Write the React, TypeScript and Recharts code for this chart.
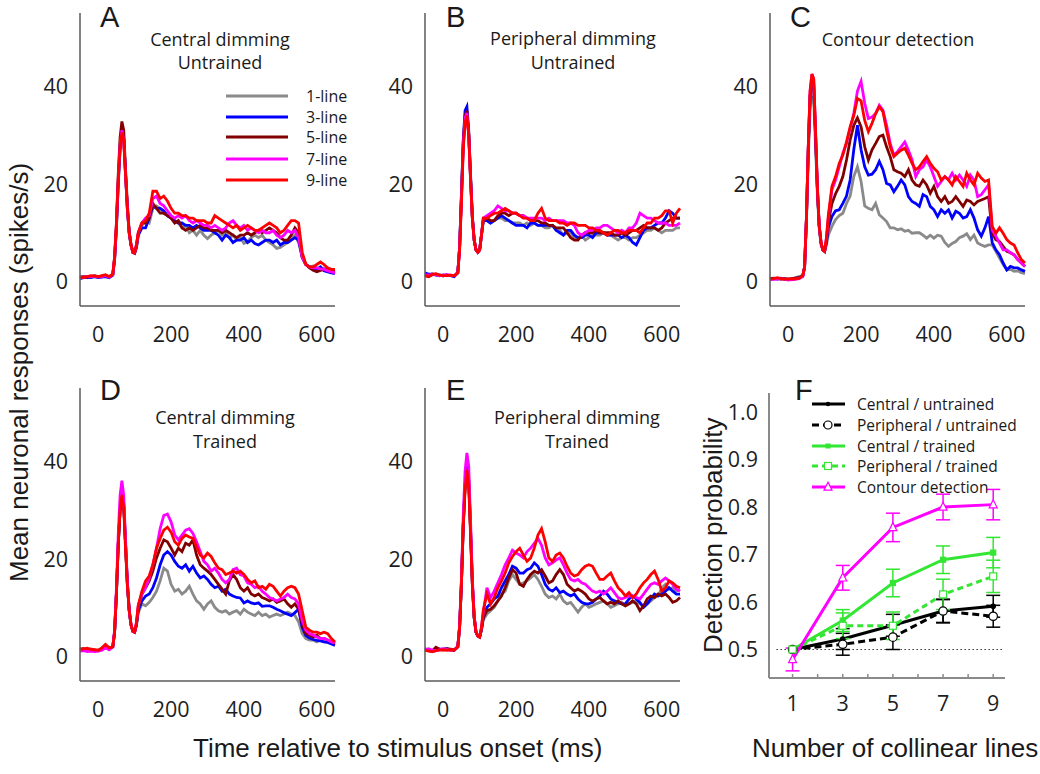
import React from "react";
import { LineChart, Line, XAxis, YAxis, ErrorBar, ReferenceLine } from "recharts";

// time bins (ms), finer around the onset transient
const TIME = [
  -50, -40, -30, -20, -10, 0, 10, 20, 30, 40, 45, 50, 55, 60, 65, 70, 75, 80, 85, 90, 95, 100, 105, 110,
  120, 130, 140, 150, 160, 170, 180, 190, 200, 210,
  220, 230, 240, 250, 260, 270, 280, 290, 300, 310,
  320, 330, 340, 350, 360, 370, 380, 390, 400, 410,
  420, 430, 440, 450, 460, 470, 480, 490, 500, 510,
  520, 530, 540, 550, 560, 570, 580, 590, 600, 610,
  620, 630, 640, 650,
];

// A: central dimming, untrained
const A_1 = [0.9,1.0,0.8,1.1,1.0,0.9,1.0,1.2,0.9,1.4,4.5,11,20,27,31,29,22,15,10,7.5,6,5.8,7,9.5,
  11.5,12.5,12,15,15.5,15,14,13.5,13,12.5, 12,11,11.5,10,10.5,9.5,10.5,9.5,8.8,9.5,
  10,10.5,9.5,10,9,9.5,8.5,9,7.8,8.2, 9,9.5,9,9.5,8.5,8,7.5,6.8,7,7.5,
  8,8.5,9.5,8,5,3.5,3,3.2,2.8,2.5, 2.8,2.3,2.2,2.0];
const A_3 = [0.6,0.8,0.9,0.8,1.0,0.8,0.9,1.0,0.8,1.3,4.5,11,20,27,31.5,29.5,22,15,10,7.5,6,5.8,7,9.5,
  11,11,13,15.5,15,15,14.5,13.5,13,12.5, 12,12,11.5,11.5,11,11.5,11,10.5,10.5,10.5,
  10,9.5,8.5,9.5,9,8,8.5,8.5,9,8, 8.5,7.8,7.5,8,8.5,8.5,8,8.5,7.5,8,
  8,8.5,9,8.5,5,3.5,3,2.8,2.5,3, 2.2,2,1.8,1.6];
const A_5 = [0.9,1.0,0.9,1.0,1.2,1.0,1.1,1.3,1.0,1.5,5,12,22,29.5,32.8,31,23,16,10.5,7.5,6.2,6,7.5,10,
  12,12,13,16,15,14,14,13.5,13,12, 12.5,11,10.5,11,10.5,11,11.5,11,11,10.5,
  10.5,10.5,10,10.5,10,9.5,9,9.5,9.5,10, 9.5,10,10.5,10,10.5,11,10.5,10,9,8.5,
  8.5,9.5,11,10,5,3.5,2.8,2.3,2.0,2.3, 2.5,2.4,2.2,2.2];
const A_7 = [0.8,0.9,1.0,1.0,1.1,0.9,1.0,1.2,0.9,1.4,4.8,11.5,21,28,31,29,22,15,10,7.5,6,6,7.5,10,
  12,13,13.5,17,17.5,16,15.5,14.5,13.5,13, 13.5,13,13.5,12.5,12,12.5,12,11.5,11.5,11,
  11.5,11,10.5,11,12,12.5,11.5,11,11.5,10.5, 11,10.5,10,10.5,10,10,10.5,9.5,9,9.5,
  10.5,10,10.5,9,5,3.5,3,2.8,2.8,2.6, 2.5,2.2,2,1.8];
const A_9 = [0.9,0.8,1.0,1.2,1.1,1.0,1.2,1.4,1.0,1.5,5,12,21,27.5,30.5,29,22,15,10,7.5,6,5.8,7.5,10,
  12,12.5,14,18.5,18.5,17,17.5,16.5,15,14, 14,13.5,13.5,13,13,12.5,12.5,12.5,12,12,
  13.5,13,12.5,12,11.5,11,11.5,10.5,11,11.5, 11,10.5,10.5,11,11.5,12,11.5,11,10,10.5,
  11.5,12.5,12.5,12,6,3.5,3,3,3.5,4, 3.5,2.8,2.5,2.5];

// B: peripheral dimming, untrained
const B_1 = [1.5,1.3,1.6,1.3,1.2,1.4,1.3,1.2,1.2,1.8,7,17,28,33.5,34.5,30,21,13,8.5,6.5,6,6.5,9.5,12.5,
  12.5,12,12.5,13,13,12.5,12.5,12,12,12, 11.5,12,11.5,12,11.5,11.5,11,11,11.5,10.5,
  10.5,9.5,10,10,9,9,9.5,8.5,9,9.5, 9.5,9.5,10,9.5,9.5,9,8.5,9,9,8.5,
  9,9,9.5,10,10.5,10.5,11,10.5,10,10.5, 10.5,10.5,11,11];
const B_3 = [1.8,1.5,1.5,1.4,1.3,1.2,1.3,1.2,1.0,1.8,7,18,29,35,35.8,31,22,13.5,8.5,6.5,6,6.5,9.5,12.5,
  12.5,12,12.5,13,13.5,13,12.5,12,11.5,11.5, 11.5,11,12,12,11.5,11.5,11.5,11.5,11.5,10.5,
  10,9.5,10.5,10.5,9.5,9,9,9.5,9.5,9, 10,10,10,9.5,9.5,9.5,9.5,9,9.5,9,
  8,7.5,9,10.5,11,11,11.5,12,12,13, 14.5,14,13,13];
const B_5 = [1.2,1.0,1.4,1.5,1.3,1.2,1.3,1.2,1.2,1.8,7,17.5,28.5,34,35,30.5,21.5,13,8.5,6.5,6,6.5,9.5,12.5,
  13,12.5,12.5,13.5,14,14,13.5,14,14,13.5, 13.5,13,12.5,12.5,12.5,12,12,11.5,11.5,11,
  11,11,10,9,8.5,8.5,9.5,10,10,10, 10.5,10,10,10,10,9.5,9.5,10,9.5,10,
  10.5,10.5,11,11.5,11,11,11,10.5,11,12, 12.5,13,13,13];
const B_7 = [1.4,1.3,1.5,1.4,1.2,1.3,1.4,1.3,1.2,1.8,7,17,28,33.5,34.5,30,21,13,8.5,6.5,6,6.5,9.5,13,
  13.5,14,14.5,15.5,15,14.5,14.5,14,14,13.5, 13.5,13,13,13,13,13,12.5,13,12.5,12.5,
  12.5,12.5,12,12,11.5,10,9.5,10,10.5,10.5, 11,11,11.5,11.5,11,10.5,10,10.5,10,11,
  11,12,14,13.5,13,13,12.5,12,12,12, 11.5,11.5,11.5,12];
const B_9 = [1.2,1.1,1.5,1.6,1.3,1.2,1.2,1.3,1.2,1.8,6.5,16,27,32.5,34,30,21,13,8.5,6.5,6,6.5,9.5,13,
  13,13.5,14,14,14.5,15,14.5,14,14,13.5, 13,13,12.5,12.5,14,15,13,12.5,12.5,12.5,
  12,12,11.5,12,12,11.5,11.5,11.5,11,11, 10.5,10.5,10,9.5,10,10.5,10.5,10,10,10.5,
  10.5,10.5,10,11,12,12,13,13,13.5,14.5, 14.5,12,14,15];

// C: contour detection
const C_1 = [0.6,0.5,0.7,0.5,0.6,0.4,0.5,0.8,1.0,1.2,3,12,25,35,38,37,28,18,11,7.5,6.5,6.3,7.5,9.5,
  11.3,12.7,13.5,14,16,17.5,21.5,23.5,20.5,15.5, 15,14.7,16,13.7,13,12.3,11,11,10.6,10.8,
  10.3,10.5,9.9,10,10,9.5,8.9,9.5,8.9,9.5, 9.3,8,7.2,7.8,8.2,9,9.3,9.8,8.6,9.5,
  7.9,7.5,7.2,7.5,7.5,6.2,4.8,3.5,2.4,2.5, 2.1,2.2,1.8,1.6];
const C_3 = [0.5,0.6,0.5,0.7,0.5,0.5,0.4,0.6,0.8,1.2,3,13,27,38,41,40,30,19,11.5,8,6.5,6.2,8,11,
  13.3,14.5,14.7,16,17.5,20.8,27,32,27,23.5, 21.8,22,22.9,24.6,22.9,20.1,19.8,18.4,19.5,20.8,
  19.8,17.4,16.4,16,15.4,17.8,17.4,15.4,14.7,13.3, 14.7,14,14.7,13,14.4,14,13,13.3,14.7,13,
  10.6,9.3,11,13.3,8,6.5,5.5,3.8,2.4,3.1, 2.8,2.8,2.4,2.1];
const C_5 = [0.6,0.7,0.6,0.5,0.6,0.5,0.6,0.7,0.8,1.2,3,13,27,38,41.5,40.5,30,19,11.5,8,6.5,6.2,8.5,12,
  16,18,19.5,21.5,24.9,29,32,33.5,31.7,27.6, 24.9,27,28.3,29.7,30,27.6,25.6,22.9,22.5,22.2,
  21.5,22.9,20.8,19.8,19.5,20.8,19.8,18.1,19.5,17.4, 16.4,17.4,16,16.4,17.4,16.4,15.4,16.7,16.4,15.7,
  16.4,16.7,17,17.4,9.9,8.6,8.2,7.2,6.2,5.9, 5.5,4.5,3.8,3.1];
const C_7 = [0.4,0.5,0.5,0.6,0.5,0.3,0.4,0.5,0.6,1.0,3,13,27.5,39,42.5,41.5,31,19.5,11.5,8,6.5,6.2,9,13,
  18.8,20.8,23.5,26.3,28.3,31.4,34.4,39,41,36.5, 33.4,33.7,34.4,36.1,35.1,32,28.3,25.9,26.6,27.6,
  28.6,26.9,24.9,21.5,22.9,23.5,24.9,23.5,21.5,19.5, 20.5,21.5,20.8,22.2,20.8,21.8,20.8,19.5,21.8,20.8,
  17.4,17.8,18.8,19.8,10.6,9.3,7.9,6.5,6.5,5.9, 5.5,4.5,3.8,3.1];
const C_9 = [0.5,0.6,0.8,0.6,0.5,0.5,0.6,0.5,0.7,1.2,3,13,27.5,39,42.5,41.5,31,19.5,11.5,8,6.5,6.2,9,13.5,
  19.5,21.5,24.2,25.9,28.6,31.7,34,37.5,37,33, 30.7,32.4,34.4,35.8,34.8,31,27.6,25.6,26.3,26.9,
  27.3,25.9,24.2,22.9,23.5,24.6,25.6,24.2,23.2,22.5, 20.8,21.5,20.8,19.8,21.5,20.5,19.5,22.2,20.8,19.8,
  22.2,21.2,20.5,20.8,11.3,9.9,11,9.9,8.6,7.9, 7.5,5.9,4.5,3.8];

// D: central dimming, trained
const D_1 = [1.3,1.4,1.5,1.2,1.3,1.2,1.4,1.8,1.6,2,5,13,23,30,33,31,23,15,9.5,6.5,5.2,5,6.5,9,
  10.8,10.4,11.1,12.1,13.4,15.5,18.1,17.5,14.8,13.4, 13.8,12.8,13.4,14.4,12.8,11.4,10.8,9.7,10.8,11.4,
  10.1,9.4,9.1,9.4,8.7,9.1,9.4,8.7,9.7,9.1, 8.7,8.4,9.1,8.4,8.7,8.1,8.4,8.7,8.4,8.7,
  9.1,8.7,8.4,7.1,4.7,3.7,3.4,3.4,3.0,3.4, 3.0,3.0,2.7,2.5];
const D_3 = [1.4,1.5,1.3,1.4,1.2,1.3,1.5,2,1.5,2,5,13,23,30,33,31,23,15,9.5,6.5,5.2,5,6.5,9.5,
  11.4,12.4,12.8,14.1,16.1,18.8,20.8,21.5,20.8,19.5, 18.5,18.1,18.8,17.5,18.5,17.1,16.1,16.5,15.8,14.8,
  14.1,14.4,13.4,13.8,12.8,12.4,12.1,12,11,11.4, 11,10.8,11,10.3,10.4,10.4,10.1,9.7,9.4,9,
  8.7,8.4,9,9.7,6,4.3,3.8,3.5,3.3,3.2, 3,2.9,2.6,2.3];
const D_5 = [1.5,1.6,1.4,1.5,1.3,1.2,1.6,2.3,1.7,2,5,13,23,30,33.5,31.5,23,15,9.5,6.5,5.2,5,6.5,10,
  12.8,14.1,15.5,17.5,20.2,22.2,23.9,23.5,22.2,20.8, 22.2,21.5,23.2,22.8,23.9,20.8,18.8,18.1,17.5,16.8,
  15.8,14.8,13.8,12.8,15.5,16.8,15.8,14.1,13.4,14.1, 12.8,12.4,12.8,12.1,11.8,11.4,11.8,11.1,11.4,11.8,
  10.8,10.1,10.8,9.7,6.7,4.7,4.4,4,4.4,3.7, 3.7,3.4,3,2.7];
const D_7 = [1.1,1.2,1.0,1.1,1.0,1.1,1.3,1.8,1.4,2,5.5,14,25,33,36,33,24,15.5,9.5,6.5,5.2,5,7,10.5,
  12.8,14.1,16.1,18.8,22.2,26.2,28.9,29.2,27.6,24.9, 23.9,24.9,25.9,26.2,25.2,23.5,21.5,19.5,18.8,17.5,
  18.1,17.1,15.8,15.1,15.8,17.8,18.1,16.8,16.5,15.1, 14.8,14.1,14.4,13.4,12.8,12.1,11.8,11.4,11.8,12.1,
  12.8,12.1,11.8,10.8,7.4,5.4,4.7,4.4,4,3.7, 3.7,3.4,3,2.8];
const D_9 = [1.5,1.6,1.7,1.5,1.4,1.3,1.8,2.5,1.8,2,5,13,23,30,33,30.5,22,14.5,9.5,6.5,5.2,5,7,10.5,
  13.4,15.5,16.5,18.8,22.2,24.2,25.9,26.5,25.5,23.5, 22.8,24.2,24.9,24.5,24.2,22.5,20.8,20.2,21.2,20.5,
  19.2,18.1,17.8,16.8,17.1,17.5,17.1,17.5,16.8,15.8, 15.1,15.5,14.1,14.4,13.8,14.8,14.4,13.4,12.4,13.4,
  14.1,14.4,14.1,12.8,9.4,6,5.4,5,5,4.7, 5,4.7,3.7,3];

// E: peripheral dimming, trained
const E_1 = [1.3,1.2,1.0,1.4,1.5,1.4,1.5,1.4,1.3,2,6,15,27,35,38.5,36,26,15,8,5,4.2,4,5.5,7.5,
  8.7,9.4,10.1,11.4,12.8,13.4,15.5,16.8,15.8,14.8, 15.1,15.5,16.1,16.8,15.8,14.4,12.8,12.1,12.4,11.8,
  12.8,11.4,10.8,11.1,10.1,9.1,10.1,10.8,10.1,10.4, 10.8,11.1,11.4,10.8,10.1,10.4,10.8,11.1,10.4,10.8,
  11.1,11.4,10.8,10.1,10.8,11.4,12.1,12.4,14.1,14.8, 13.8,14.1,13.4,13.8];
const E_3 = [1.5,1.3,1.1,1.2,1.5,1.5,1.6,1.4,1.3,2,6,15,27,35,39,36.5,26,15,8,5,4.2,4,5.5,8,
  10.1,10.8,11.8,12.4,14.1,15.5,16.8,18.5,18.1,17.1, 17.1,17.8,18.1,19.2,18.5,16.8,14.8,13.8,13.4,14.1,
  13.1,13.4,12.8,12.4,12.8,11.8,11.1,10.8,10.8,11.1, 11.8,12.4,13.4,12.8,11.8,11.4,11.1,10.8,10.8,11.8,
  12.4,11.8,11.1,10.1,10.8,11.8,12.8,12.4,12.8,13.4, 14.1,13.4,12.8,12.8];
const E_5 = [1.6,1.4,1.2,1.9,1.5,1.4,1.6,1.5,1.4,2,6,15,27,35,38.5,36,26,15,8,5,4.2,4,5.5,8,
  9.4,9.7,10.4,11.4,12.4,14.1,16.1,17.8,17.1,14.8, 14.4,15.8,16.8,17.5,17.1,17.8,16.5,15.1,15.5,16.8,
  17.8,16.8,14.8,14.1,13.4,13.8,13.4,12.8,11.8,11.4, 11.8,12.1,11.4,10.8,11.1,10.8,11.4,10.8,10.4,10.8,
  11.4,10.8,9.4,10.4,11.8,12.4,12.1,12.8,12.4,12.8, 12.1,11.1,11.4,12.1];
const E_7 = [1.4,1.6,1.3,1.2,1.4,1.6,1.5,1.3,1.4,2,6.5,16,29,38,41.7,39,28,16,8.5,5,4.2,4,6,9,
  14.1,12.1,13.4,15.1,16.8,18.8,20.2,21.8,21.2,20.8, 20.2,21.5,22.2,23.2,24.2,22.8,20.2,18.8,19.2,19.8,
  20.2,18.8,17.1,15.8,15.5,15.8,15.1,14.8,14.1,13.4, 13.1,13.4,12.8,13.4,14.1,13.1,12.1,11.8,12.1,12.4,
  12.4,12.1,11.8,12.8,13.8,14.8,15.1,14.8,15.5,16.1, 15.5,14.8,13.8,13.4];
const E_9 = [1.3,1.1,1.0,1.2,1.3,1.4,1.3,1.4,1.3,2,6,15,26.5,34,38.2,35,25,14.5,8,5,4.2,4,6,9.5,
  12.8,10.8,12.1,14.1,15.5,17.1,19.2,20.5,21.5,22.2, 20.8,19.5,20.2,22.2,24.9,26.2,23.5,20.2,19.5,20.8,
  21.2,20.2,18.5,17.1,16.5,16.8,17.8,18.5,18.8,18.5, 17.1,15.8,15.8,16.5,17.1,15.5,14.1,13.4,12.4,13.1,
  12.1,12.8,14.1,15.1,15.8,16.8,17.5,15.8,13.4,14.1, 15.5,15.1,14.4,14.1];

// F: detection probability vs number of collinear lines
const N_LINES = [1, 3, 5, 7, 9];
const CENTRAL_UNTRAINED = [0.5, 0.522, 0.551, 0.581, 0.591];
const CENTRAL_UNTRAINED_ERR = [0, 0.022, 0.023, 0.025, 0.023];
const PERIPH_UNTRAINED = [0.5, 0.511, 0.526, 0.581, 0.57];
const PERIPH_UNTRAINED_ERR = [0, 0.023, 0.026, 0.024, 0.023];
const CENTRAL_TRAINED = [0.5, 0.561, 0.64, 0.689, 0.704];
const CENTRAL_TRAINED_ERR = [0, 0.023, 0.029, 0.029, 0.032];
const PERIPH_TRAINED = [0.5, 0.55, 0.55, 0.616, 0.654];
const PERIPH_TRAINED_ERR = [0, 0.027, 0.029, 0.032, 0.034];
const CONTOUR = [0.479, 0.651, 0.757, 0.8, 0.805];
const CONTOUR_ERR = [0.024, 0.026, 0.03, 0.027, 0.032];

const TRACE_KEYS = ["l1", "l3", "l5", "l7", "l9"];
const TRACE_COLORS = ["#8a8a8a", "#0000ff", "#800000", "#ff00ff", "#ff0000"];
const TRACE_NAMES = ["1-line", "3-line", "5-line", "7-line", "9-line"];

const GREEN = "#33e633";
const MAGENTA = "#ff00ff";

const TICK = { fontSize: 21.5, fill: "#1e1e1e", fontFamily: "'Open Sans', sans-serif" };
const AXIS = { stroke: "#5a5a5a", strokeWidth: 1.5 };
const F_AXIS = { stroke: "#8a8a8a", strokeWidth: 2 };

function TracePanel({ left, top, series }: { left: number; top: number; series: number[][] }) {
  const rows = TIME.map((t, i) => {
    const row: Record<string, number> = { t };
    TRACE_KEYS.forEach((k, j) => {
      row[k] = series[j][i];
    });
    return row;
  });
  return (
    <div style={{ position: "absolute", left, top }}>
      <LineChart width={345} height={370} data={rows} margin={{ top: 13, right: 10, bottom: 0, left: 0 }}>
        <XAxis
          dataKey="t"
          type="number"
          domain={[-50, 650]}
          ticks={[0, 200, 400, 600]}
          height={64}
          axisLine={AXIS}
          tickLine={false}
          tickMargin={15}
          tick={TICK}
        />
        <YAxis
          type="number"
          domain={[-5, 55]}
          ticks={[0, 20, 40]}
          width={80}
          axisLine={AXIS}
          tickLine={false}
          tickMargin={6}
          tick={TICK}
        />
        {TRACE_KEYS.map((k, j) => (
          <Line
            key={k}
            dataKey={k}
            type="linear"
            stroke={TRACE_COLORS[j]}
            strokeWidth={2.8}
            dot={false}
            activeDot={false}
            isAnimationActive={false}
          />
        ))}
      </LineChart>
    </div>
  );
}

const circleDot = (fill: string, stroke: string, r: number) => (p: any) => (
  <circle key={`c${p.index}`} cx={p.cx} cy={p.cy} r={r} fill={fill} stroke={stroke} strokeWidth={1.2} />
);
const squareDot = (fill: string, stroke: string, s: number) => (p: any) => (
  <rect key={`s${p.index}`} x={p.cx - s / 2} y={p.cy - s / 2} width={s} height={s} fill={fill} stroke={stroke} strokeWidth={1.2} />
);
const triPoints = (cx: number, cy: number, s: number) =>
  `${cx},${cy - s * 0.6} ${cx - s / 2},${cy + s * 0.4} ${cx + s / 2},${cy + s * 0.4}`;
const triDot = (stroke: string, s: number) => (p: any) => (
  <polygon key={`t${p.index}`} points={triPoints(p.cx, p.cy, s)} fill="#fff" stroke={stroke} strokeWidth={1.2} />
);

function DetectionPanel() {
  const rows = N_LINES.map((x, i) => ({
    x,
    cu: CENTRAL_UNTRAINED[i],
    cuE: CENTRAL_UNTRAINED_ERR[i],
    pu: PERIPH_UNTRAINED[i],
    puE: PERIPH_UNTRAINED_ERR[i],
    ct: CENTRAL_TRAINED[i],
    ctE: CENTRAL_TRAINED_ERR[i],
    pt: PERIPH_TRAINED[i],
    ptE: PERIPH_TRAINED_ERR[i],
    cd: CONTOUR[i],
    cdE: CONTOUR_ERR[i],
  }));
  return (
    <div style={{ position: "absolute", left: 689, top: 380 }}>
      <LineChart width={326} height={370} data={rows} margin={{ top: 13, right: 10, bottom: 0, left: 0 }}>
        <XAxis
          dataKey="x"
          type="number"
          domain={[0.06, 9.47]}
          ticks={[1, 2, 3, 4, 5, 6, 7, 8, 9]}
          tickFormatter={(v: number) => (v % 2 === 1 ? String(v) : "")}
          height={72}
          axisLine={F_AXIS}
          tickLine={{ stroke: "#8a8a8a", strokeWidth: 1.5 }}
          tickSize={-4}
          tickMargin={22}
          tick={TICK}
        />
        <YAxis
          type="number"
          domain={[0.44, 1.04]}
          ticks={[0.5, 0.6, 0.7, 0.8, 0.9, 1.0]}
          tickFormatter={(v: number) => v.toFixed(1)}
          width={80}
          axisLine={F_AXIS}
          tickLine={false}
          tickMargin={5}
          tick={TICK}
        />
        <ReferenceLine
          segment={[{ x: 0.36, y: 0.5 }, { x: 9.35, y: 0.5 }]}
          stroke="#000"
          strokeWidth={1.2}
          strokeDasharray="1.2 2.8"
        />
        <Line dataKey="cu" type="linear" stroke="#000" strokeWidth={3} dot={circleDot("#000", "#000", 2.2)} activeDot={false} isAnimationActive={false}>
          <ErrorBar dataKey="cuE" width={7} stroke="#000" strokeWidth={1.5} />
        </Line>
        <Line dataKey="pu" type="linear" stroke="#000" strokeWidth={3} strokeDasharray="7 4" dot={circleDot("#fff", "#000", 4.2)} activeDot={false} isAnimationActive={false}>
          <ErrorBar dataKey="puE" width={7} stroke="#000" strokeWidth={1.5} />
        </Line>
        <Line dataKey="ct" type="linear" stroke={GREEN} strokeWidth={3} dot={squareDot(GREEN, GREEN, 5)} activeDot={false} isAnimationActive={false}>
          <ErrorBar dataKey="ctE" width={7} stroke={GREEN} strokeWidth={1.5} />
        </Line>
        <Line dataKey="pt" type="linear" stroke={GREEN} strokeWidth={3} strokeDasharray="6 4" dot={squareDot("#fff", GREEN, 7)} activeDot={false} isAnimationActive={false}>
          <ErrorBar dataKey="ptE" width={7} stroke={GREEN} strokeWidth={1.5} />
        </Line>
        <Line dataKey="cd" type="linear" stroke={MAGENTA} strokeWidth={3} dot={triDot(MAGENTA, 8)} activeDot={false} isAnimationActive={false}>
          <ErrorBar dataKey="cdE" width={7} stroke={MAGENTA} strokeWidth={1.5} />
        </Line>
      </LineChart>
    </div>
  );
}

const LETTER = { fontFamily: "'Liberation Sans', Arial, sans-serif", fontSize: 29, fill: "#1a1a1a" };
const SUB = { fontFamily: "'Open Sans', sans-serif", fontSize: 18, fill: "#1a1a1a" };
const BIG = { fontFamily: "'Liberation Sans', Arial, sans-serif", fontSize: 26, fill: "#1a1a1a" };
const LEG = { fontFamily: "'Open Sans', sans-serif", fontSize: 16, fill: "#1a1a1a" };
const LEG_F = { fontFamily: "'Open Sans', sans-serif", fontSize: 15.5, fill: "#1a1a1a" };

const F_LEGEND = [
  { name: "Central / untrained", color: "#000", dash: undefined, mark: "dot" },
  { name: "Peripheral / untrained", color: "#000", dash: "7 4", mark: "ocircle" },
  { name: "Central / trained", color: GREEN, dash: undefined, mark: "square" },
  { name: "Peripheral / trained", color: GREEN, dash: "6 4", mark: "osquare" },
  { name: "Contour detection", color: MAGENTA, dash: undefined, mark: "tri" },
];

function Overlay() {
  const aRows = [96, 117, 137, 159, 180];
  const fRows = [404, 425, 446, 466, 487];
  return (
    <svg width={1040} height={774} style={{ position: "absolute", left: 0, top: 0, pointerEvents: "none" }}>
      <text x={100} y={27} {...LETTER}>A</text>
      <text x={446} y={27} {...LETTER}>B</text>
      <text x={790} y={27} {...LETTER}>C</text>
      <text x={100} y={400} {...LETTER}>D</text>
      <text x={446} y={400} {...LETTER}>E</text>
      <text x={795} y={400} {...LETTER}>F</text>

      <text x={220} y={46} textAnchor="middle" {...SUB}>Central dimming</text>
      <text x={220} y={69} textAnchor="middle" {...SUB}>Untrained</text>
      <text x={573} y={45} textAnchor="middle" {...SUB}>Peripheral dimming</text>
      <text x={573} y={69} textAnchor="middle" {...SUB}>Untrained</text>
      <text x={898} y={46} textAnchor="middle" {...SUB}>Contour detection</text>
      <text x={225} y={424} textAnchor="middle" {...SUB}>Central dimming</text>
      <text x={225} y={448} textAnchor="middle" {...SUB}>Trained</text>
      <text x={577} y={424} textAnchor="middle" {...SUB}>Peripheral dimming</text>
      <text x={577} y={448} textAnchor="middle" {...SUB}>Trained</text>

      {aRows.map((y, i) => (
        <g key={TRACE_NAMES[i]}>
          <line x1={226} x2={288} y1={y} y2={y} stroke={TRACE_COLORS[i]} strokeWidth={3} />
          <text x={306} y={y + 6} {...LEG}>{TRACE_NAMES[i]}</text>
        </g>
      ))}

      {F_LEGEND.map((e, i) => {
        const y = fRows[i];
        const cx = 828;
        let mark = null;
        if (e.mark === "dot") mark = <circle cx={cx} cy={y} r={2.2} fill="#000" />;
        if (e.mark === "ocircle") mark = <circle cx={cx} cy={y} r={4} fill="#fff" stroke="#000" strokeWidth={1.2} />;
        if (e.mark === "square") mark = <rect x={cx - 2.5} y={y - 2.5} width={5} height={5} fill={GREEN} />;
        if (e.mark === "osquare") mark = <rect x={cx - 3.5} y={y - 3.5} width={7} height={7} fill="#fff" stroke={GREEN} strokeWidth={1.2} />;
        if (e.mark === "tri") mark = <polygon points={triPoints(cx, y, 8)} fill="#fff" stroke={MAGENTA} strokeWidth={1.2} />;
        return (
          <g key={e.name}>
            <line x1={812} x2={845} y1={y} y2={y} stroke={e.color} strokeWidth={3} strokeDasharray={e.dash} />
            {mark}
            <text x={857} y={y + 6} {...LEG_F}>{e.name}</text>
          </g>
        );
      })}

      <text x={193} y={757} {...BIG}>Time relative to stimulus onset (ms)</text>
      <text x={752} y={757} {...BIG}>Number of collinear lines</text>
      <text transform="translate(28,582) rotate(-90)" {...BIG}>Mean neuronal responses (spikes/s)</text>
      <text transform="translate(722,653) rotate(-90)" {...BIG}>Detection probability</text>
    </svg>
  );
}

export default function App() {
  return (
    <div style={{ position: "absolute", left: 0, top: 0, width: 1040, height: 774, background: "#fff", overflow: "hidden" }}>
      <TracePanel left={0} top={0} series={[A_1, A_3, A_5, A_7, A_9]} />
      <TracePanel left={345} top={0} series={[B_1, B_3, B_5, B_7, B_9]} />
      <TracePanel left={690} top={0} series={[C_1, C_3, C_5, C_7, C_9]} />
      <TracePanel left={0} top={375} series={[D_1, D_3, D_5, D_7, D_9]} />
      <TracePanel left={345} top={375} series={[E_1, E_3, E_5, E_7, E_9]} />
      <DetectionPanel />
      <Overlay />
    </div>
  );
}
